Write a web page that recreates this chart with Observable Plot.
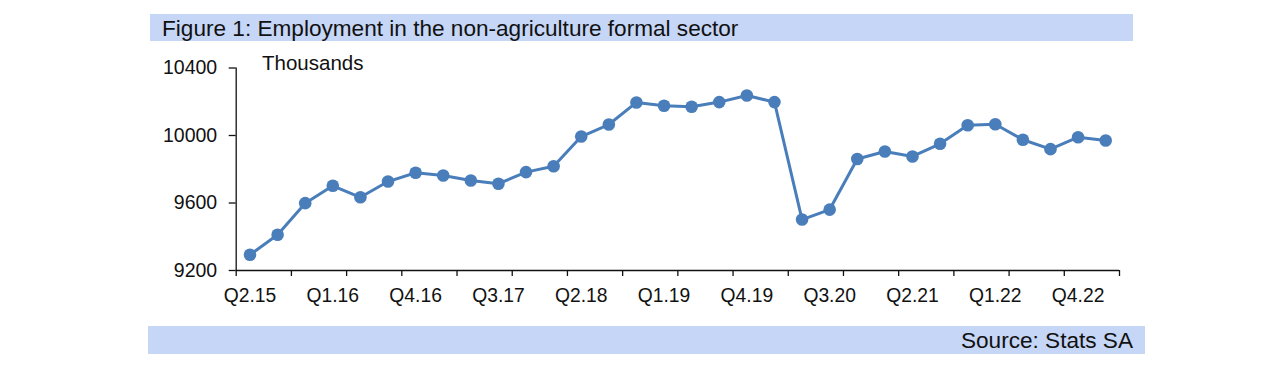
<!DOCTYPE html>
<html>
<head>
<meta charset="utf-8">
<script src="https://cdn.jsdelivr.net/npm/d3@7"></script>
<script src="https://cdn.jsdelivr.net/npm/@observablehq/plot@0.6"></script>
<style>
  html, body { margin: 0; padding: 0; background: #fff; }
  body { width: 1288px; height: 368px; position: relative; overflow: hidden;
         font-family: "Liberation Sans", Arial, sans-serif; color: #111; }
  .band { position: absolute; background: #c6d6f6; }
  #title { left: 150px; top: 14px; width: 983px; height: 27px; }
  #title span { position: absolute; left: 12px; top: 1px; font-size: 22.6px; line-height: 27px; white-space: nowrap; }
  #source { left: 148px; top: 326px; width: 997px; height: 28px; }
  #source span { position: absolute; right: 12px; top: 1px; font-size: 22.6px; line-height: 28px; white-space: nowrap; }
  #units { position: absolute; left: 262px; top: 51px; font-size: 20.5px; line-height: 24px; }
  #chart { position: absolute; left: 0; top: 0; }
  #chart svg { background: transparent; }
</style>
</head>
<body>
<div id="chart"></div>
<div class="band" id="title"><span>Figure 1: Employment in the non-agriculture formal sector</span></div>
<div id="units">Thousands</div>
<div class="band" id="source"><span>Source: Stats SA</span></div>
<script>
const quarters = [
  "Q2.15","Q3.15","Q4.15","Q1.16","Q2.16","Q3.16","Q4.16","Q1.17",
  "Q2.17","Q3.17","Q4.17","Q1.18","Q2.18","Q3.18","Q4.18","Q1.19",
  "Q2.19","Q3.19","Q4.19","Q1.20","Q2.20","Q3.20","Q4.20","Q1.21",
  "Q2.21","Q3.21","Q4.21","Q1.22","Q2.22","Q3.22","Q4.22","Q1.23"
];
const employment = [
  9293, 9412, 9599, 9702, 9634, 9727, 9779, 9763,
  9733, 9714, 9783, 9818, 9994, 10065, 10196, 10176,
  10170, 10198, 10237, 10198, 9502, 9561, 9861, 9905,
  9876, 9951, 10061, 10067, 9975, 9919, 9990, 9970
];
const labelledQuarters = ["Q2.15","Q1.16","Q4.16","Q3.17","Q2.18","Q1.19","Q4.19","Q3.20","Q2.21","Q1.22","Q4.22"];
const yTicks = [9200, 9600, 10000, 10400];

const data = quarters.map((q, i) => ({i, q, v: employment[i]}));
const labelIdx = labelledQuarters.map(q => quarters.indexOf(q));
// tick marks sit on category boundaries, every second category
const boundaryTicks = d3.range(-0.5, quarters.length, 2);

const color = "#4a7ebb";
const plot = Plot.plot({
  width: 1288,
  height: 368,
  marginLeft: 235.7,
  marginRight: 169,
  marginTop: 67.5,
  marginBottom: 98,
  style: {fontFamily: "'Liberation Sans', Arial, sans-serif", fontSize: "19.3px", color: "#111", background: "transparent"},
  x: {type: "linear", domain: [-0.5, quarters.length - 0.5]},
  y: {domain: [yTicks[0], yTicks[yTicks.length - 1]]},
  marks: [
    Plot.axisY({ticks: yTicks, tickSize: 7, tickPadding: 12, tickFormat: d => String(d), stroke: "#111", strokeWidth: 1.3, fontSize: 19.5, label: null}),
    Plot.axisX({ticks: boundaryTicks, tickSize: 6, tickFormat: () => "", stroke: "#111", strokeWidth: 1.3, label: null}),
    Plot.axisX({ticks: labelIdx, tickSize: 0, tickPadding: 18, tickFormat: d => quarters[d], fontSize: 19.3, label: null}),
    Plot.ruleX([-0.5], {stroke: "#111", strokeWidth: 1.3}),
    Plot.ruleY([yTicks[0]], {stroke: "#111", strokeWidth: 1.3}),
    Plot.line(data, {x: "i", y: "v", stroke: color, strokeWidth: 3}),
    Plot.dot(data, {x: "i", y: "v", r: 6.3, fill: color, stroke: "none"})
  ]
});
document.getElementById("chart").appendChild(plot);
</script>
</body>
</html>
